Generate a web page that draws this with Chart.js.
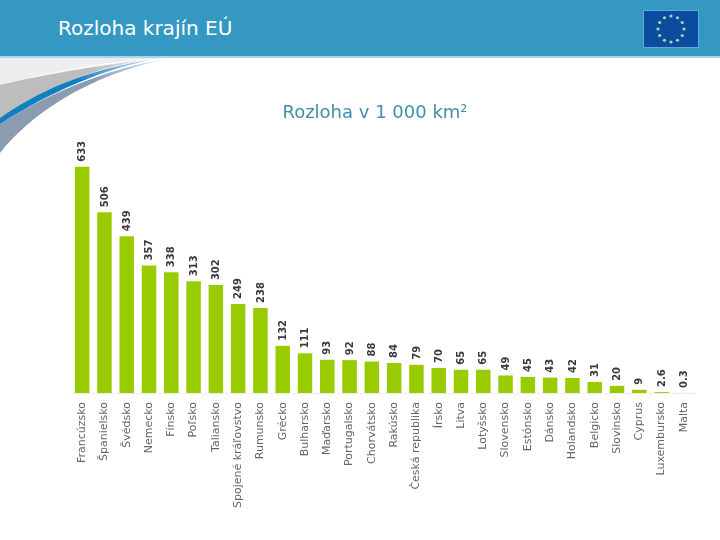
<!DOCTYPE html>
<html lang="sk">
<head>
<meta charset="UTF-8">
<title>Rozloha krajín EÚ</title>
<script src="https://cdn.jsdelivr.net/npm/chart.js@4"></script>
<style>
    html, body { margin: 0; padding: 0; background: #fff; }
    #page { position: relative; width: 720px; height: 540px; overflow: hidden; }
    #header { position: absolute; left: 0; top: 0; width: 720px; height: 56px; background: #3598c3; border-bottom: 2px solid #a9d6ea; }
    #heading { position: absolute; left: 58px; top: 16px; margin: 0; color: #fff; font: normal 20px "DejaVu Sans", sans-serif; white-space: nowrap; }
    #swoosh, #flag { position: absolute; }
    #swoosh { left: 0; top: 0; }
    #flag { left: 643px; top: 10px; }
    canvas { position: absolute; left: 0; top: 0; }
</style>
</head>
<body>
<div id="page">
    <svg id="swoosh" width="720" height="160" viewBox="0 0 720 160">
        <defs>
            <linearGradient id="fadeBlue" x1="0" y1="0" x2="170" y2="0" gradientUnits="userSpaceOnUse">
                <stop offset="0.45" stop-color="#0f7fbd"/>
                <stop offset="0.75" stop-color="#8fc3e6"/>
                <stop offset="1" stop-color="#e6f2fa"/>
            </linearGradient>
            <linearGradient id="fadeSlate" x1="0" y1="0" x2="170" y2="0" gradientUnits="userSpaceOnUse">
                <stop offset="0.55" stop-color="#8b9bb0"/>
                <stop offset="0.85" stop-color="#c4d6e6"/>
                <stop offset="1" stop-color="#f4f8fb"/>
            </linearGradient>
            <linearGradient id="fadeGray" x1="0" y1="0" x2="150" y2="0" gradientUnits="userSpaceOnUse">
                <stop offset="0.6" stop-color="#bdbdbd"/>
                <stop offset="1" stop-color="#e4e4e4"/>
            </linearGradient>
        </defs>
        <path d="M0 58 H170 C110 60 50 72 0 85 Z" fill="#eeeeee"/>
        <path d="M0 85 C33 77 67 70 150 59 C90 68 45 90 0 119 Z" fill="url(#fadeGray)"/>
        <path d="M0 153 C30 115 85 76 170 58 C110 68 50 92 0 124 Z" fill="url(#fadeSlate)"/>
        <path d="M0 118 C35 94 80 70 160 58 C105 68 50 92 0 124 Z" fill="url(#fadeBlue)"/>
    </svg>
    <div id="header"></div>
    <h1 id="heading">Rozloha krajín EÚ</h1>
    <svg id="flag" width="56" height="38" viewBox="0 0 56 38">
        <rect x="0.5" y="0.5" width="55" height="37" fill="#0a4c9e" stroke="#5fa8dc"/>
        <g id="stars" fill="#a8d4b0"></g>
    </svg>
    <canvas id="areaChart" width="720" height="540"></canvas>
</div>
<script>
const countries = ['Francúzsko', 'Španielsko', 'Švédsko', 'Nemecko', 'Fínsko', 'Poľsko', 'Taliansko',
    'Spojené kráľovstvo', 'Rumunsko', 'Grécko', 'Bulharsko', 'Maďarsko', 'Portugalsko', 'Chorvátsko',
    'Rakúsko', 'Česká republika', 'Írsko', 'Litva', 'Lotyšsko', 'Slovensko', 'Estónsko', 'Dánsko',
    'Holandsko', 'Belgicko', 'Slovinsko', 'Cyprus', 'Luxembursko', 'Malta'];
const areas = [633, 506, 439, 357, 338, 313, 302, 249, 238, 132, 111, 93, 92, 88,
    84, 79, 70, 65, 65, 49, 45, 43, 42, 31, 20, 9, 2.6, 0.3];
const chartTitle = 'Rozloha v 1 000 km²';
const axisMax = 750;

// flag stars, just decoration
const stars = document.getElementById('stars');
for (let i = 0; i < 12; i++) {
    const a = i * Math.PI / 6;
    const dot = document.createElementNS('http://www.w3.org/2000/svg', 'circle');
    dot.setAttribute('cx', 28 + 13 * Math.sin(a));
    dot.setAttribute('cy', 19 - 13 * Math.cos(a));
    dot.setAttribute('r', 1.6);
    stars.appendChild(dot);
}

// rotated numbers above the bars
const valueLabels = {
    id: 'valueLabels',
    afterDatasetsDraw(chart) {
        const ctx = chart.ctx;
        const bars = chart.getDatasetMeta(0).data;
        ctx.save();
        ctx.font = 'bold 10px "DejaVu Sans", sans-serif';
        ctx.fillStyle = '#3a3a3a';
        ctx.textAlign = 'left';
        ctx.textBaseline = 'middle';
        bars.forEach((bar, i) => {
            ctx.save();
            ctx.translate(bar.x + 0.5, bar.y - 5);
            ctx.rotate(-Math.PI / 2);
            ctx.fillText(String(areas[i]), 0, 0);
            ctx.restore();
        });
        ctx.restore();
    }
};

new Chart(document.getElementById('areaChart').getContext('2d'), {
    type: 'bar',
    data: {
        labels: countries,
        datasets: [{
            label: chartTitle,
            data: areas,
            backgroundColor: '#99cc00',
            barPercentage: 0.65,
            categoryPercentage: 1
        }]
    },
    options: {
        responsive: false,
        animation: false,
        layout: { padding: { left: 55, right: 25, top: 102.5, bottom: 0 } },
        plugins: {
            legend: { display: false },
            tooltip: { enabled: false },
            title: {
                display: true,
                text: chartTitle,
                color: '#3f8fa8',
                font: { family: '"DejaVu Sans", sans-serif', size: 18, weight: 'normal' },
                padding: { top: 0, bottom: 0.9 }
            }
        },
        scales: {
            x: {
                grid: { display: false, drawTicks: false },
                border: { color: '#eeeeee' },
                ticks: {
                    autoSkip: false,
                    minRotation: 90,
                    maxRotation: 90,
                    padding: 9,
                    color: '#666666',
                    font: { family: '"DejaVu Sans", sans-serif', size: 11 }
                },
                afterFit(scale) { scale.height = 147; }
            },
            y: {
                min: 0,
                max: axisMax,
                grid: { display: false, drawTicks: false },
                border: { display: false },
                ticks: { display: false },
                afterFit(scale) { scale.width = 16; }
            }
        }
    },
    plugins: [valueLabels]
});
</script>
</body>
</html>
